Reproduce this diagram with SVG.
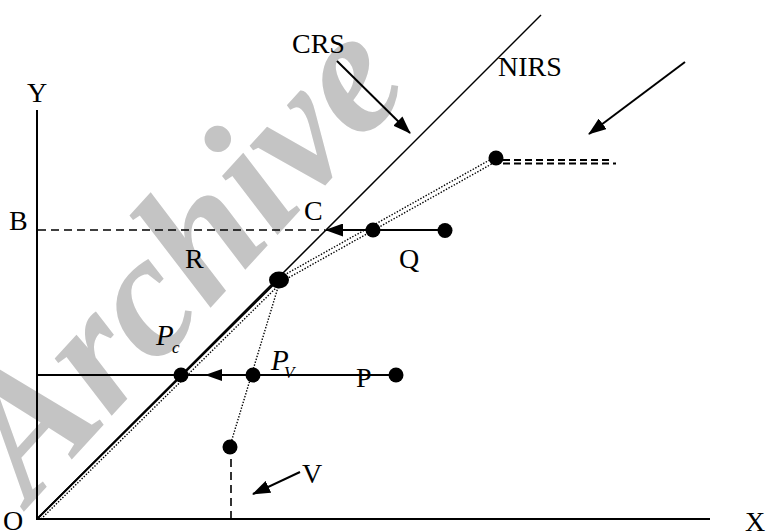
<svg xmlns="http://www.w3.org/2000/svg" width="766" height="531" viewBox="0 0 766 531">
<style>
.ln{stroke:#000;stroke-width:2;fill:none}
.thin{stroke:#000;stroke-width:1.5;fill:none}
.dash{stroke:#000;stroke-width:1.6;fill:none;stroke-dasharray:8 5}
.dot{stroke:#000;stroke-width:1.4;fill:none;stroke-dasharray:1.4 1.6}
.pt{fill:#000}
.lbl{font-family:"Liberation Serif","Times New Roman",serif;font-size:28px;fill:#000}
.it{font-style:italic}
.wm{font-family:"Liberation Serif","Times New Roman",serif;font-style:italic;font-weight:bold;font-size:176px;fill:#c4c4c4}
</style>
<defs>
<marker id="ah" markerWidth="18" markerHeight="13" refX="17" refY="6.5" orient="auto" markerUnits="userSpaceOnUse"><path d="M0,0 L18,6.5 L0,13 Z" fill="#000"/></marker>
</defs>
<rect width="766" height="531" fill="#fff"/>
<text class="wm" transform="translate(30,505) rotate(-47.5)">Archive</text>

<g id="connectors">
<line class="ln" x1="37" y1="110" x2="37" y2="519"/>
<line class="ln" x1="36" y1="519" x2="710" y2="519"/>
<line class="thin" x1="37" y1="519" x2="541" y2="15"/>
<line class="ln" x1="37" y1="519" x2="279" y2="279"/>
<line class="dash" x1="38" y1="230" x2="325" y2="230"/>
<line class="ln" x1="445" y1="230" x2="326" y2="230" marker-end="url(#ah)"/>
<line class="ln" x1="37" y1="375" x2="396" y2="375"/>
<path class="pt" d="M205,375 L222,369 L222,381 Z"/>
<line class="dot" x1="41" y1="519" x2="282" y2="282"/>
<line class="dot" x1="281" y1="282" x2="497" y2="161"/>
<line class="dot" x1="279" y1="278" x2="495" y2="157"/>
<line class="dot" x1="279" y1="284" x2="230" y2="446"/>
<line class="dash" style="stroke-dasharray:7 4;stroke-width:1.8" x1="503" y1="160" x2="611" y2="160"/>
<line class="dash" style="stroke-dasharray:7 4;stroke-width:1.8" x1="503" y1="163.5" x2="616" y2="163.5"/>
<line class="dash" x1="231" y1="459" x2="231" y2="519"/>
<line class="ln" x1="337" y1="61" x2="410" y2="133" marker-end="url(#ah)"/>
<line class="ln" x1="685" y1="62" x2="589" y2="134" marker-end="url(#ah)"/>
<line class="ln" x1="300" y1="472" x2="253" y2="494" marker-end="url(#ah)"/>
</g>

<g id="axis-labels">
<text class="lbl" x="27" y="102">Y</text>
<text class="lbl" x="745" y="531">X</text>
<text class="lbl" x="3" y="530">O</text>
<text class="lbl" x="9" y="230">B</text>
</g>
<g id="node-CRS"><text class="lbl" x="292" y="53">CRS</text></g>
<g id="node-NIRS"><text class="lbl" x="498" y="76">NIRS</text></g>
<g id="node-C"><text class="lbl" x="304" y="220">C</text></g>
<g id="node-Q">
<circle class="pt" cx="373" cy="230" r="7.5"/>
<circle class="pt" cx="445" cy="230.5" r="7.5"/>
<text class="lbl" x="399" y="268">Q</text>
</g>
<g id="node-top"><circle class="pt" cx="496" cy="158" r="7.5"/></g>
<g id="node-R">
<ellipse class="pt" cx="279" cy="280" rx="10" ry="8.5"/>
<text class="lbl" x="185" y="268">R</text>
</g>
<g id="node-Pc">
<circle class="pt" cx="181" cy="375" r="7.5"/>
<text class="lbl it" x="156" y="345" style="font-size:29px">P</text>
<text class="lbl it" x="172" y="353" style="font-size:17px">c</text>
</g>
<g id="node-Pv">
<circle class="pt" cx="253" cy="375" r="7.5"/>
<text class="lbl it" x="271" y="370" style="font-size:29px">P</text>
<text class="lbl it" x="284" y="378" style="font-size:17px">V</text>
</g>
<g id="node-P">
<circle class="pt" cx="396" cy="375" r="7.5"/>
<text class="lbl" x="356" y="387">P</text>
</g>
<g id="node-V">
<circle class="pt" cx="230" cy="447" r="7.5"/>
<text class="lbl" x="302" y="483">V</text>
</g>
</svg>
